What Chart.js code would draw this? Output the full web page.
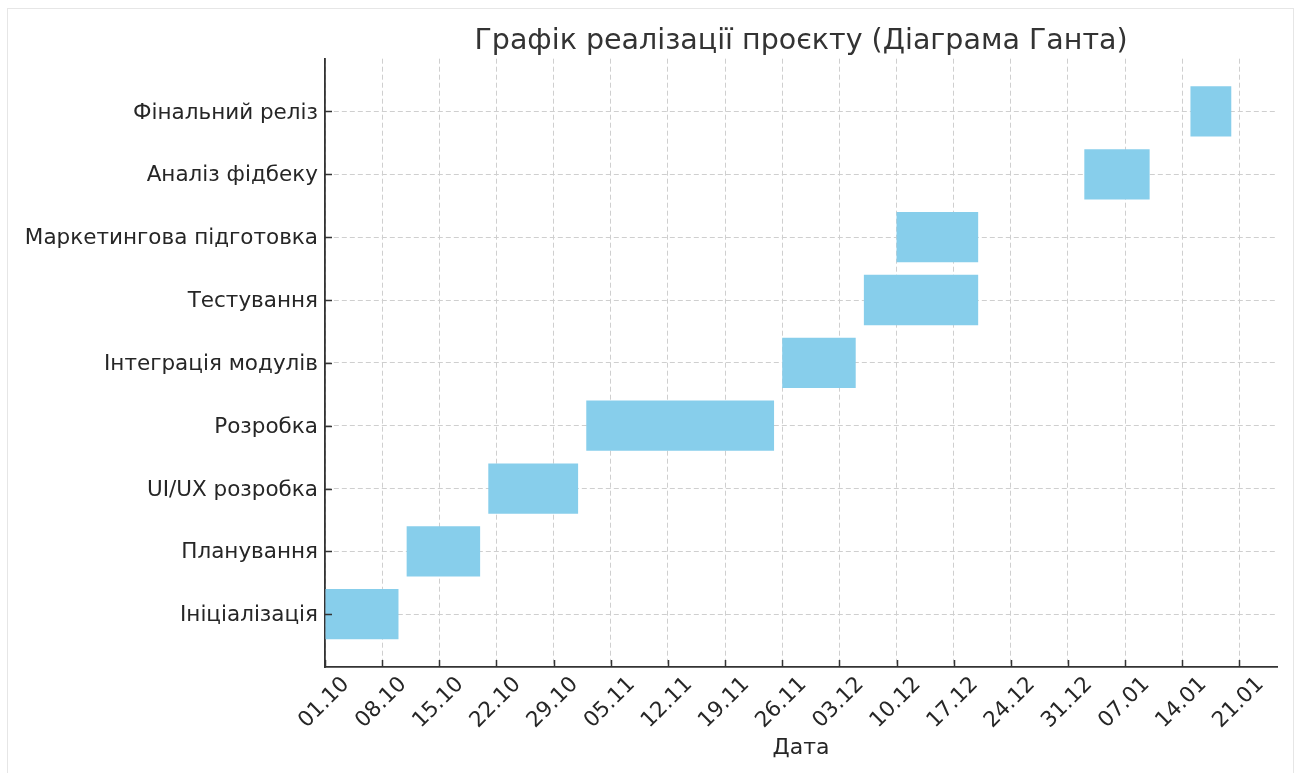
<!DOCTYPE html>
<html>
<head>
<meta charset="utf-8">
<script src="https://cdn.jsdelivr.net/npm/chart.js@4/dist/chart.umd.min.js"></script>
<style>
  html, body { margin: 0; padding: 0; background: #fff; }
  #wrap { position: relative; width: 1299px; height: 773px; }
  #frame {
    position: absolute; left: 7px; top: 8px; width: 1285px; height: 780px;
    border: 1px solid #e6e6e6; pointer-events: none;
  }
</style>
</head>
<body>
<div id="wrap">
  <canvas id="gantt" width="1299" height="773"></canvas>
  <div id="frame"></div>
</div>
<script>
// Tasks, bottom to top
const tasks = [
  "Ініціалізація",
  "Планування",
  "UI/UX розробка",
  "Розробка",
  "Інтеграція модулів",
  "Тестування",
  "Маркетингова підготовка",
  "Аналіз фідбеку",
  "Фінальний реліз",
];

const startDates = [
  "2024-10-01", "2024-10-11", "2024-10-21", "2024-11-02", "2024-11-26",
  "2024-12-06", "2024-12-10", "2025-01-02", "2025-01-15",
];
const endDates = [
  "2024-10-10", "2024-10-20", "2024-11-01", "2024-11-25", "2024-12-05",
  "2024-12-20", "2024-12-20", "2025-01-10", "2025-01-20",
];

// weekly ticks starting 01.10
const tickLabels = [
  "01.10", "08.10", "15.10", "22.10", "29.10", "05.11", "12.11", "19.11",
  "26.11", "03.12", "10.12", "17.12", "24.12", "31.12", "07.01", "14.01", "21.01",
];

const day0 = Date.UTC(2024, 9, 1);
const toDay = (s) => (Date.parse(s + "T00:00:00Z") - day0) / 86400000;

const bars = tasks.map((t, i) => ({ x: [toDay(startDates[i]), toDay(endDates[i])], y: i }));

const textColor = "#262626";
const gridColor = "#cfcfcf";
const spineColor = "#333333";

// matplotlib-like inward tick marks
const innerTicks = {
  id: "innerTicks",
  afterDraw(chart) {
    const { ctx, chartArea, scales } = chart;
    ctx.save();
    ctx.strokeStyle = spineColor;
    ctx.lineWidth = 1.5;
    ctx.setLineDash([]);
    ctx.beginPath();
    scales.x.ticks.forEach((t) => {
      const px = Math.round(scales.x.getPixelForValue(t.value)) + 0.5;
      ctx.moveTo(px, chartArea.bottom);
      ctx.lineTo(px, chartArea.bottom - 7);
    });
    scales.y.ticks.forEach((t) => {
      const py = Math.round(scales.y.getPixelForValue(t.value)) + 0.5;
      ctx.moveTo(chartArea.left, py);
      ctx.lineTo(chartArea.left + 7, py);
    });
    ctx.stroke();
    ctx.restore();
  },
};

Chart.defaults.font.family = "'DejaVu Sans', sans-serif";
Chart.defaults.color = textColor;

new Chart(document.getElementById("gantt"), {
  type: "bar",
  plugins: [innerTicks],
  data: {
    datasets: [
      {
        data: bars,
        backgroundColor: "#87ceeb",
        borderWidth: 0,
        categoryPercentage: 0.8,
        barPercentage: 1.0,
      },
    ],
  },
  options: {
    indexAxis: "y",
    responsive: false,
    animation: false,
    layout: { padding: { left: 0, right: 22, top: 0, bottom: 0 } },
    plugins: {
      legend: { display: false },
      tooltip: { enabled: false },
      title: {
        display: true,
        text: "Графік реалізації проєкту (Діаграма Ганта)",
        fullSize: false,
        color: "#333333",
        font: { size: 28.5, weight: "normal" },
        padding: { top: 24, bottom: 0.5 },
      },
    },
    scales: {
      x: {
        type: "linear",
        min: 0,
        max: 116.6,
        z: 1,
        afterBuildTicks: (scale) => {
          scale.ticks = tickLabels.map((_, i) => ({ value: i * 7 }));
        },
        afterFit: (scale) => { scale.height = 773 - 667; },
        ticks: {
          autoSkip: false,
          minRotation: 45,
          maxRotation: 45,
          labelOffset: 21,
          padding: 5,
          font: { size: 21.5 },
          callback: (value, index) => tickLabels[index],
        },
        grid: { color: gridColor, lineWidth: 1, drawTicks: false },
        border: { display: true, color: spineColor, width: 1.8, dash: [5, 3] },
        title: { display: true, text: "Дата", font: { size: 22 }, padding: { top: 0, bottom: 12 } },
      },
      y: {
        type: "linear",
        min: -0.84,
        max: 8.84,
        offset: false,
        z: 1,
        afterBuildTicks: (scale) => {
          scale.ticks = tasks.map((_, i) => ({ value: i }));
        },
        afterFit: (scale) => { scale.width = 325; },
        ticks: {
          padding: 7,
          labelOffset: 1.5,
          font: { size: 21.5 },
          callback: (value) => tasks[value] ?? "",
        },
        grid: { color: gridColor, lineWidth: 1, drawTicks: false, offset: false },
        border: { display: true, color: spineColor, width: 1.8, dash: [5, 3] },
      },
    },
  },
});
</script>
</body>
</html>
